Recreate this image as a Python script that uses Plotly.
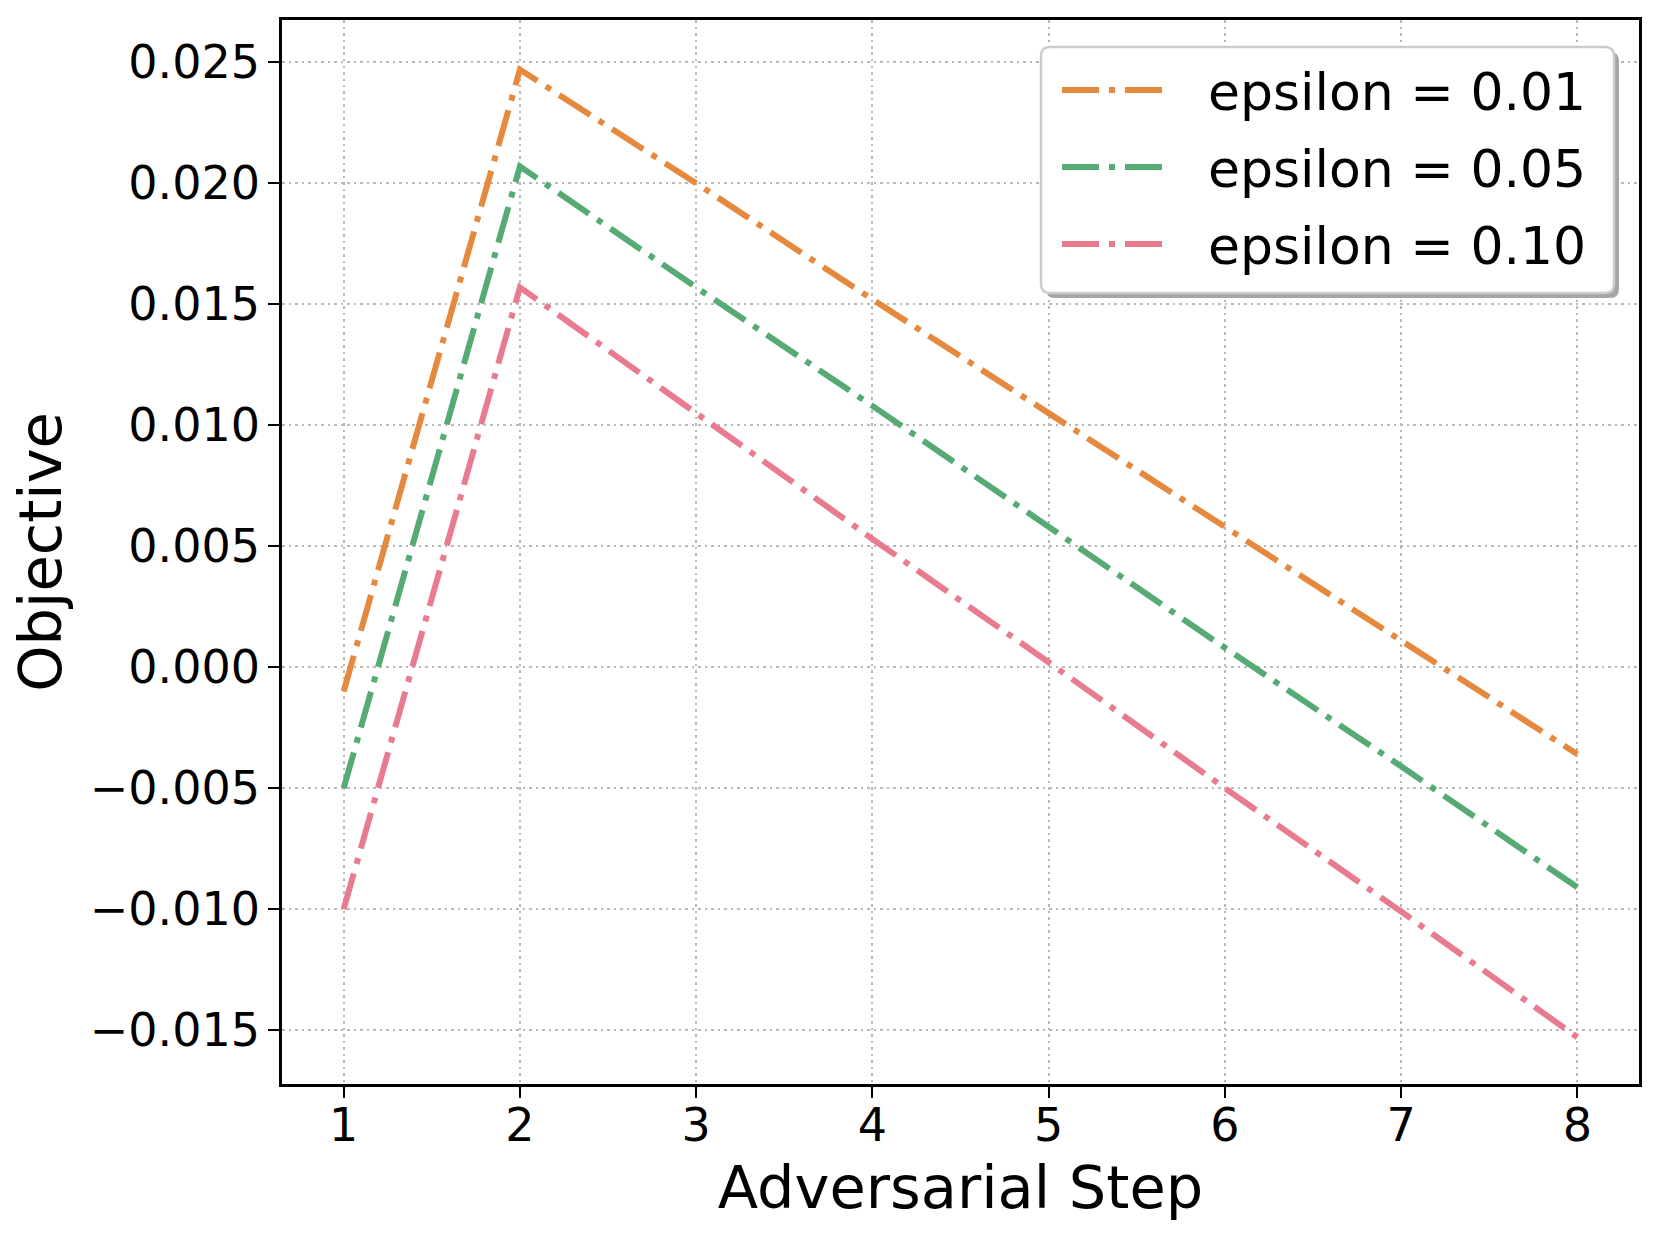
import plotly.graph_objects as go

steps = [1, 2, 3, 4, 5, 6, 7, 8]
eps_001 = [-0.0010, 0.0247, 0.0200, 0.0152, 0.0105, 0.0058, 0.0011, -0.0036]
eps_005 = [-0.0050, 0.0207, 0.0157, 0.0108, 0.0058, 0.0008, -0.0041, -0.0091]
eps_010 = [-0.0100, 0.0157, 0.0105, 0.0053, 0.0002, -0.0050, -0.0101, -0.0153]
names = ["epsilon = 0.01", "epsilon = 0.05", "epsilon = 0.10"]
colors = ["#E5893F", "#55AB73", "#E87B90"]
y_ticks = [-0.015, -0.010, -0.005, 0.000, 0.005, 0.010, 0.015, 0.020, 0.025]

W, H = 1660, 1240
L, R, T, B = 282, 21, 20, 156
DASH = "37px,10px,6px,10px"
FONT = "DejaVu Sans"


def px_x(x):
    return (x - L) / (W - L - R)


def px_y(y):
    return (H - B - y) / (H - T - B)


def rounded_rect(x0, y0, x1, y1, r):
    # path in paper coords, pixel corners in
    rx = r / (W - L - R)
    ry = r / (H - T - B)
    a, b, c, d = px_x(x0), px_y(y0), px_x(x1), px_y(y1)
    return (f"M{a + rx},{b} L{c - rx},{b} Q{c},{b} {c},{b - ry} "
            f"L{c},{d + ry} Q{c},{d} {c - rx},{d} L{a + rx},{d} "
            f"Q{a},{d} {a},{d + ry} L{a},{b - ry} Q{a},{b} {a + rx},{b} Z")


fig = go.Figure()
for vals, name, col in zip([eps_001, eps_005, eps_010], names, colors):
    fig.add_trace(go.Scatter(x=steps, y=vals, mode="lines", name=name,
                             line=dict(color=col, width=6, dash=DASH),
                             showlegend=False))

axis_common = dict(showline=True, linecolor="black", linewidth=2.5, mirror=True,
                   ticks="outside", ticklen=11, tickwidth=2, tickcolor="black",
                   showgrid=True, gridcolor="#b8b8b8", gridwidth=2, griddash="2.5px,4px",
                   zeroline=False, tickfont=dict(size=46, color="black", family=FONT))

fig.update_xaxes(range=[0.65, 8.35], tickvals=steps, ticklabelstandoff=-12,
                 title=dict(text="Adversarial Step", font=dict(size=59, color="black", family=FONT), standoff=16),
                 **axis_common)
fig.update_yaxes(range=[-0.01723, 0.02675], tickvals=y_ticks, tickformat=".3f", ticklabelstandoff=-1,
                 title=dict(text="Objective", font=dict(size=59, color="black", family=FONT), standoff=10),
                 **axis_common)

# legend drawn by hand, matplotlib style
shapes = [
    dict(type="path", xref="paper", yref="paper", path=rounded_rect(1046, 52, 1619, 298, 9),
         fillcolor="#a6a6a6", line=dict(width=0), layer="above"),
    dict(type="path", xref="paper", yref="paper", path=rounded_rect(1041, 47, 1614, 293, 9),
         fillcolor="white", line=dict(color="#cccccc", width=2.5), layer="above"),
]
annotations = []
row_y = [90, 167, 244]
for name, col, yy in zip(names, colors, row_y):
    shapes.append(dict(type="line", xref="paper", yref="paper",
                       x0=px_x(1062), x1=px_x(1162), y0=px_y(yy), y1=px_y(yy),
                       line=dict(color=col, width=6, dash=DASH), layer="above"))
    annotations.append(dict(xref="paper", yref="paper", x=px_x(1206), y=px_y(yy + 2),
                            xanchor="left", yanchor="middle", text=name, showarrow=False,
                            font=dict(size=52, color="black", family=FONT)))

fig.update_layout(width=W, height=H, margin=dict(l=L, r=R, t=T, b=B, autoexpand=False),
                  plot_bgcolor="white", paper_bgcolor="white",
                  font=dict(family=FONT, color="black"),
                  shapes=shapes, annotations=annotations)

fig.write_html("out.html", config={"displayModeBar": False},
               post_script="document.body.style.margin='0px';")
